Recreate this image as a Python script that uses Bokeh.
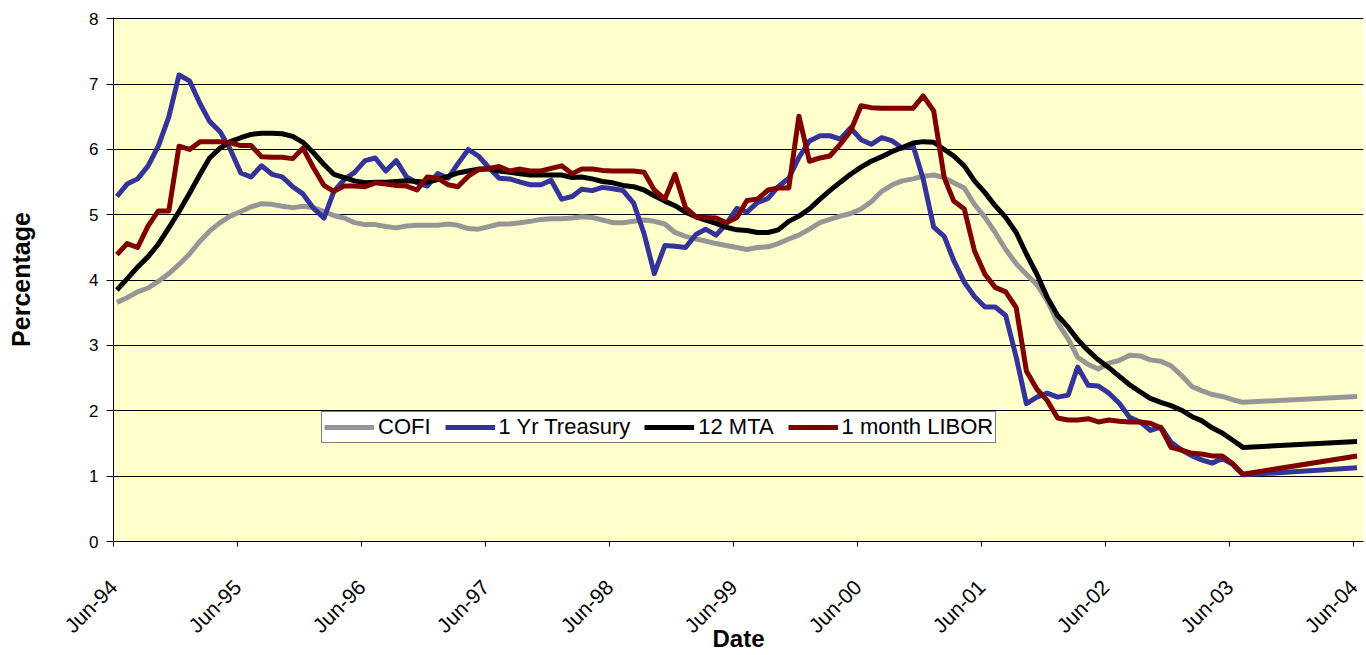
import math
import pandas as pd
from bokeh.plotting import figure
from bokeh.models import (Range1d, FixedTicker, DatetimeTickFormatter, Legend,
                          LegendItem, ColumnDataSource)
from bokeh.embed import file_html
from bokeh.resources import INLINE

# ---- data (monthly, Jun-94 .. Jul-03, then Jun-04) ----
months = [p.strftime("%Y-%m") for p in pd.period_range("1994-06", "2003-07", freq="M")] + ["2004-06"]

cofi = [
    3.66, 3.73, 3.82, 3.88, 3.98, 4.10, 4.24, 4.40, 4.60, 4.75,
    4.88, 4.98, 5.05, 5.12, 5.17, 5.16, 5.13, 5.11, 5.13, 5.11,
    5.05, 4.99, 4.95, 4.88, 4.85, 4.85, 4.82, 4.80, 4.83, 4.84,
    4.84, 4.84, 4.86, 4.84, 4.79, 4.78, 4.82, 4.86, 4.86, 4.88,
    4.90, 4.93, 4.94, 4.94, 4.95, 4.97, 4.96, 4.92, 4.88, 4.88,
    4.90, 4.92, 4.90, 4.86, 4.73, 4.67, 4.63, 4.60, 4.56, 4.53,
    4.50, 4.47, 4.50, 4.51, 4.56, 4.63, 4.69, 4.78, 4.88, 4.93,
    4.98, 5.02, 5.09, 5.20, 5.36, 5.46, 5.52, 5.55, 5.59, 5.61,
    5.57, 5.49, 5.41, 5.16, 4.96, 4.73, 4.47, 4.25, 4.09, 3.93,
    3.69, 3.35, 3.10, 2.82, 2.71, 2.64, 2.73, 2.77, 2.85, 2.84,
    2.78, 2.76, 2.69, 2.54, 2.37, 2.31, 2.25, 2.22, 2.17, 2.13,
    2.22]

treasury_1yr = [
    5.28, 5.47, 5.55, 5.75, 6.05, 6.50, 7.14, 7.05, 6.70, 6.43,
    6.27, 6.00, 5.64, 5.58, 5.75, 5.62, 5.58, 5.43, 5.32, 5.10,
    4.95, 5.36, 5.54, 5.65, 5.83, 5.87, 5.67, 5.83, 5.58, 5.49,
    5.44, 5.63, 5.56, 5.78, 6.00, 5.90, 5.72, 5.56, 5.55, 5.50,
    5.46, 5.46, 5.53, 5.24, 5.28, 5.39, 5.37, 5.42, 5.40, 5.37,
    5.18, 4.71, 4.10, 4.53, 4.52, 4.50, 4.70, 4.78, 4.69, 4.86,
    5.10, 5.04, 5.19, 5.25, 5.43, 5.56, 5.88, 6.13, 6.21, 6.21,
    6.16, 6.33, 6.15, 6.08, 6.18, 6.13, 6.02, 6.06, 5.55, 4.81,
    4.67, 4.30, 3.97, 3.75, 3.59, 3.59, 3.46, 2.82, 2.11, 2.21,
    2.27, 2.21, 2.24, 2.67, 2.39, 2.38, 2.27, 2.12, 1.90, 1.83,
    1.70, 1.75, 1.52, 1.40, 1.31, 1.25, 1.20, 1.27, 1.18, 1.02,
    1.13]

mta_12 = [
    3.85, 4.02, 4.20, 4.36, 4.55, 4.80, 5.05, 5.33, 5.62, 5.87,
    6.02, 6.12, 6.18, 6.23, 6.25, 6.25, 6.24, 6.20, 6.11, 5.95,
    5.77, 5.62, 5.57, 5.52, 5.49, 5.50, 5.50, 5.51, 5.52, 5.51,
    5.50, 5.54, 5.59, 5.64, 5.67, 5.70, 5.70, 5.67, 5.65, 5.63,
    5.61, 5.61, 5.61, 5.61, 5.57, 5.58, 5.55, 5.51, 5.49, 5.45,
    5.43, 5.38, 5.29, 5.21, 5.14, 5.04, 4.97, 4.92, 4.87, 4.81,
    4.77, 4.76, 4.73, 4.73, 4.77, 4.90, 4.98, 5.09, 5.24, 5.37,
    5.50, 5.62, 5.73, 5.82, 5.89, 5.97, 6.03, 6.10, 6.12, 6.11,
    6.00, 5.90, 5.75, 5.52, 5.34, 5.14, 4.96, 4.73, 4.40, 4.09,
    3.74, 3.46, 3.28, 3.09, 2.92, 2.78, 2.66, 2.53, 2.40, 2.29,
    2.19, 2.13, 2.08, 2.01, 1.91, 1.85, 1.74, 1.66, 1.55, 1.44,
    1.53]

libor_1m = [
    4.39, 4.56, 4.50, 4.83, 5.06, 5.06, 6.05, 6.00, 6.12, 6.12,
    6.12, 6.10, 6.06, 6.06, 5.89, 5.88, 5.88, 5.86, 6.02, 5.72,
    5.45, 5.36, 5.44, 5.44, 5.43, 5.49, 5.47, 5.45, 5.44, 5.38,
    5.58, 5.56, 5.46, 5.43, 5.59, 5.69, 5.71, 5.74, 5.67, 5.70,
    5.67, 5.67, 5.71, 5.75, 5.63, 5.70, 5.70, 5.68, 5.67, 5.67,
    5.67, 5.65, 5.38, 5.24, 5.62, 5.11, 4.97, 4.96, 4.95, 4.88,
    4.96, 5.22, 5.24, 5.38, 5.41, 5.41, 6.51, 5.82, 5.87, 5.90,
    6.08, 6.28, 6.67, 6.64, 6.63, 6.63, 6.63, 6.63, 6.82, 6.59,
    5.57, 5.21, 5.09, 4.45, 4.09, 3.89, 3.82, 3.58, 2.61, 2.33,
    2.16, 1.89, 1.86, 1.86, 1.88, 1.83, 1.86, 1.84, 1.83, 1.83,
    1.81, 1.74, 1.44, 1.40, 1.35, 1.34, 1.31, 1.31, 1.19, 1.03,
    1.31]

series_names = ["COFI", "1 Yr Treasury", "12 MTA", "1 month LIBOR"]
series_colors = ["#969696", "#333399", "#000000", "#800000"]
tick_years = list(range(1994, 2005))
y_ticks = [0, 1, 2, 3, 4, 5, 6, 7, 8]

# ---- build ----
dates = pd.to_datetime([m + "-11" for m in months])
src = ColumnDataSource(dict(date=dates, cofi=cofi, tsy=treasury_1yr,
                            mta=mta_12, libor=libor_1m))

FONT = "Liberation Sans"

p = figure(width=1366, height=655, output_backend="svg", toolbar_location=None,
           x_axis_type="datetime",
           x_range=Range1d(pd.Timestamp("1994-06-01"), pd.Timestamp("2004-06-30")),
           y_range=Range1d(0, 8.02),
           min_border_left=113, min_border_right=3, min_border_top=17,
           min_border_bottom=114)

p.background_fill_color = "#FFFFCC"
p.border_fill_color = "white"
p.outline_line_color = None

p.xgrid.grid_line_color = None
p.ygrid.grid_line_color = "black"
p.ygrid.grid_line_width = 1

tick_ms = [pd.Timestamp(f"{y}-06-01").value // 10**6 for y in tick_years]
p.xaxis.ticker = FixedTicker(ticks=tick_ms)
p.xaxis.formatter = DatetimeTickFormatter(days="%b-%y", months="%b-%y", years="%b-%y")
p.xaxis.major_label_orientation = math.pi / 4
p.xaxis.minor_tick_line_color = None
p.xaxis.major_tick_in = 0
p.xaxis.major_tick_out = 5
p.xaxis.major_label_standoff = 37
p.xaxis.major_label_text_font_size = "21px"
p.xaxis.axis_label = "Date"
p.xaxis.axis_label_standoff = -23
p.xaxis.axis_label_text_font_size = "24px"

p.yaxis.ticker = FixedTicker(ticks=y_ticks)
p.yaxis.minor_tick_line_color = None
p.yaxis.major_tick_in = 0
p.yaxis.major_tick_out = 7
p.yaxis.major_label_standoff = 8
p.yaxis.major_label_text_font_size = "17px"
p.yaxis.axis_label = "Percentage"
p.yaxis.axis_label_standoff = 51
p.yaxis.axis_label_text_font_size = "25px"

for ax in (p.xaxis, p.yaxis):
    ax.axis_line_color = "black"
    ax.axis_line_width = 1
    ax.major_tick_line_color = "black"
    ax.major_label_text_font = FONT
    ax.major_label_text_color = "black"
    ax.axis_label_text_font = FONT
    ax.axis_label_text_font_style = "bold"
    ax.axis_label_text_color = "black"

cols = ["cofi", "tsy", "mta", "libor"]
renderers = []
for col, color in zip(cols, series_colors):
    r = p.line("date", col, source=src, line_color=color, line_width=5,
               line_join="round")
    renderers.append(r)

legend = Legend(items=[LegendItem(label=n, renderers=[r]) for n, r in zip(series_names, renderers)],
                orientation="horizontal", location=(208, 98),
                background_fill_color="white", background_fill_alpha=1.0,
                border_line_color="black", border_line_width=1,
                label_text_font=FONT, label_text_font_size="22px",
                label_text_color="black",
                glyph_width=50, glyph_height=20, label_height=20,
                label_standoff=4, spacing=14, padding=2, margin=0)
p.add_layout(legend, "center")

open("out.html", "w").write(file_html(p, INLINE))
